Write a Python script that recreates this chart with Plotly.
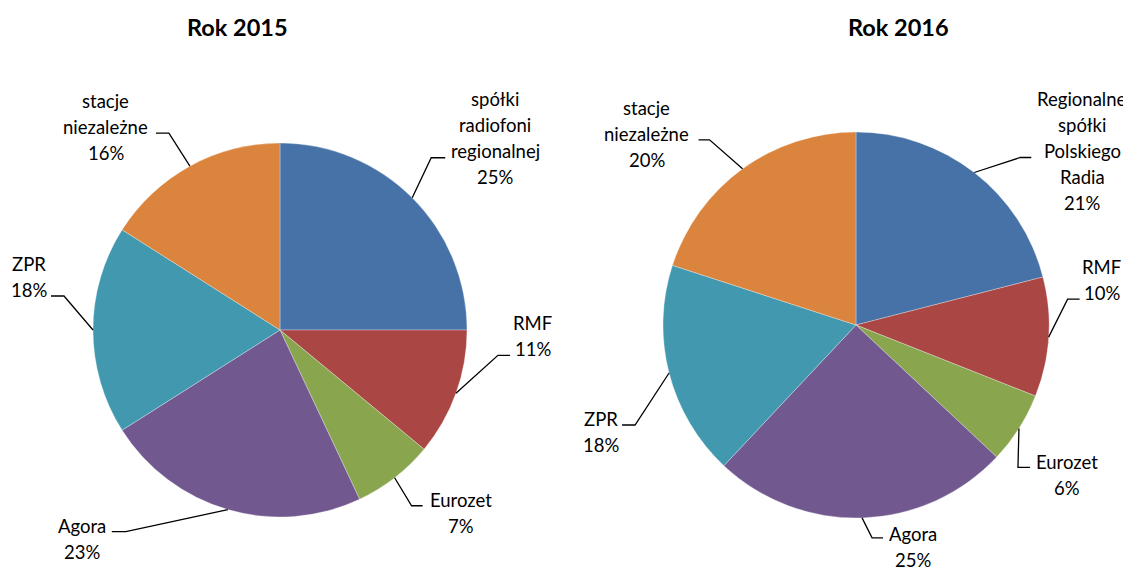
import math
import plotly.graph_objects as go

# ---- data ----
labels_2015 = ["spółki<br>radiofoni<br>regionalnej", "RMF", "Eurozet", "Agora", "ZPR", "stacje<br>niezależne"]
values_2015 = [25, 11, 7, 23, 18, 16]
labels_2016 = ["Regionalne<br>spółki<br>Polskiego<br>Radia", "RMF", "Eurozet", "Agora", "ZPR", "stacje<br>niezależne"]
values_2016 = [21, 10, 6, 25, 18, 20]
titles = ["Rok 2015", "Rok 2016"]
colors = ["#4672A7", "#AA4643", "#89A54E", "#71588F", "#4198AF", "#DB843D"]

W, H = 1131, 567
OFF = 8  # page body margin of the html page
FONT = "Lato, 'Open Sans', sans-serif"

# ---- layout / style (pixel geometry in window coordinates) ----
pies = [
    dict(cx=280, cy=330, r=187, title_x=237,
         # (elbow dx, elbow dy, horizontal len, text center dx from end, first line dy from elbow)
         leaders=[(19, -40, 14, 50, -59), (42, -38, 12, 23, -32), (17, 28, 11, 38, -6),
                  (-102, 22, -14, -30, -6), (-29, -34, -13, -22, -32), (-21, -33, -13, -50, -32)]),
    dict(cx=856, cy=325, r=193, title_x=898,
         leaders=[(46, -15, 11, 51, -59), (19, -38, 12, 22, -32), (-1, 39, 12, 37, -5),
                  (10, 20, 11, 30, -4), (-34, 52, -13, -21, -6), (-33, -29, -11, -52, -32)]),
]
LINE_GAP = 26
FW, FH = W - OFF, H - OFF


def px(x):
    return (x - OFF) / FW


def py(y):
    return 1 - (y - OFF) / FH


fig = go.Figure()
annotations = []
shapes = []

for (labels, values, title, p) in [(labels_2015, values_2015, titles[0], pies[0]),
                                   (labels_2016, values_2016, titles[1], pies[1])]:
    cx, cy, r = p["cx"], p["cy"], p["r"]
    fig.add_trace(go.Pie(
        labels=[l.replace("<br>", " ") for l in labels], values=values,
        sort=False, direction="clockwise", rotation=0,
        marker=dict(colors=colors, line=dict(color="rgba(255,255,255,0.6)", width=0.5)),
        textinfo="none", hoverinfo="label+percent", showlegend=False,
        domain=dict(x=[px(cx - r), px(cx + r)], y=[py(cy + r), py(cy - r)]),
    ))
    annotations.append(dict(text="<b>" + title + "</b>", x=px(p["title_x"]), y=py(27),
                            xref="paper", yref="paper", showarrow=False,
                            xanchor="center", yanchor="middle",
                            font=dict(family=FONT, size=23.5, color="#000000")))
    total = sum(values)
    cum = 0
    for i, (lab, v) in enumerate(zip(labels, values)):
        mid = (cum + v / 2) / total * 2 * math.pi
        cum += v
        ex = cx + r * math.sin(mid)
        ey = cy - r * math.cos(mid)
        dx, dy, hl, tdx, tdy = p["leaders"][i]
        bx, by = ex + dx, ey + dy
        endx = bx + hl
        shapes.append(dict(type="path", xref="paper", yref="paper",
                           path=f"M {px(ex)},{py(ey)} L {px(bx)},{py(by)} L {px(endx)},{py(by)}",
                           line=dict(color="#000000", width=1.3)))
        pct = round(v / total * 100)
        lines = lab.split("<br>") + [f"{pct}%"]
        tx = endx + tdx
        for j, ln in enumerate(lines):
            annotations.append(dict(text=ln, x=px(tx), y=py(by + tdy + j * LINE_GAP),
                                    xref="paper", yref="paper", showarrow=False,
                                    xanchor="center", yanchor="middle",
                                    font=dict(family=FONT, size=18.5, color="#000000")))

fig.update_layout(
    width=FW, height=FH, margin=dict(l=0, r=0, t=0, b=0),
    paper_bgcolor="white", plot_bgcolor="white",
    annotations=annotations, shapes=shapes,
)

fig.write_html("out.html")
